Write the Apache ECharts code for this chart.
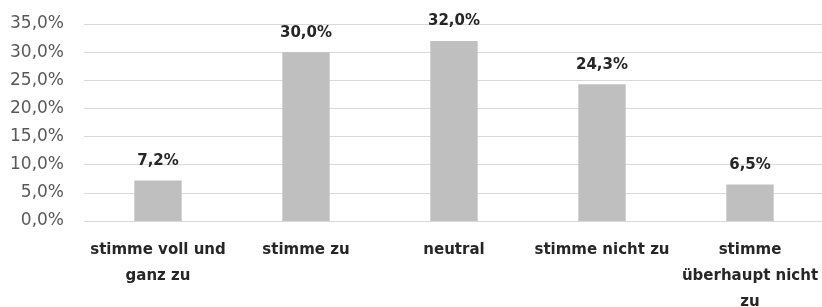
<!DOCTYPE html>
<html>
<head>
<meta charset="utf-8">
<script src="https://cdn.jsdelivr.net/npm/echarts@6/dist/echarts.min.js"></script>
<style>html,body{margin:0;padding:0;background:#fff}#c{width:822px;height:307px}</style>
</head>
<body>
<div id="c"></div>
<script>
const categories = ["stimme voll und ganz zu", "stimme zu", "neutral", "stimme nicht zu", "stimme überhaupt nicht zu"];
const categoryLabels = ["stimme voll und\nganz zu", "stimme zu", "neutral", "stimme nicht zu", "stimme\nüberhaupt nicht\nzu"];
const values = [7.2, 30.0, 32.0, 24.3, 6.5];
const yTicks = [0, 5, 10, 15, 20, 25, 30, 35];

const fmt = v => v.toFixed(1).replace('.', ',') + '%';
const chart = echarts.init(document.getElementById('c'));
chart.setOption({
  animation: false,
  grid: { left: 84, top: 24, width: 740, height: 197, containLabel: false, outerBoundsMode: 'none' },
  xAxis: {
    type: 'category',
    data: categories,
    axisLine: { show: true, lineStyle: { color: '#D9D9D9', width: 1 } },
    axisTick: { show: false },
    axisLabel: {
      interval: 0,
      margin: 16,
      fontFamily: 'DejaVu Sans',
      fontWeight: 'bold',
      fontSize: 15,
      lineHeight: 26,
      color: '#262626',
      formatter: (v, i) => categoryLabels[i]
    }
  },
  yAxis: {
    type: 'value',
    min: yTicks[0],
    max: yTicks[yTicks.length - 1],
    interval: 5,
    axisLine: { show: false },
    axisTick: { show: false },
    splitLine: { lineStyle: { color: '#D9D9D9', width: 1 } },
    axisLabel: {
      margin: 20,
      fontFamily: 'DejaVu Sans',
      fontSize: 17,
      color: '#595959',
      formatter: v => fmt(v)
    }
  },
  series: [{
    type: 'bar',
    data: values,
    barWidth: '32%',
    itemStyle: { color: '#BFBFBF' },
    label: {
      show: true,
      position: 'top',
      distance: 12,
      fontFamily: 'DejaVu Sans',
      fontWeight: 'bold',
      fontSize: 15,
      color: '#262626',
      formatter: p => fmt(p.value)
    }
  }]
});
</script>
</body>
</html>
